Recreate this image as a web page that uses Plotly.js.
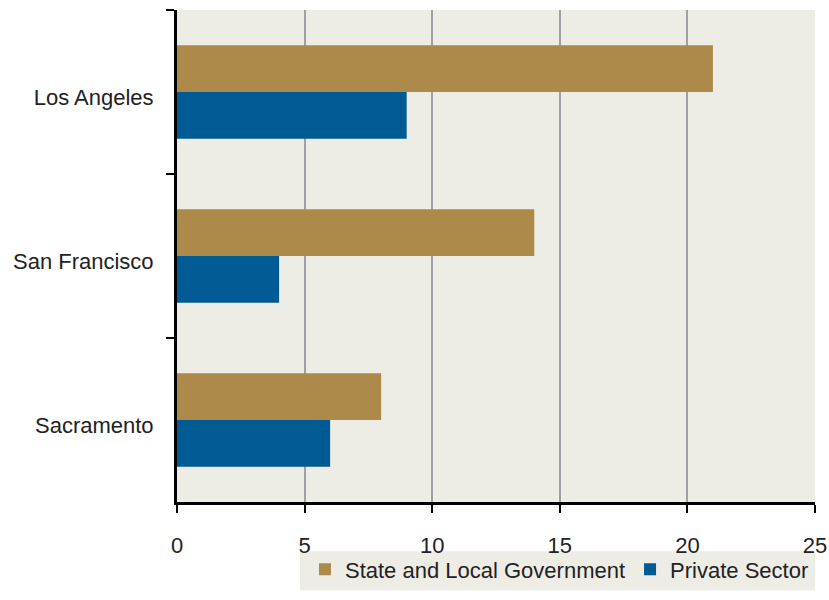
<!DOCTYPE html>
<html>
<head>
<meta charset="utf-8">
<script src="https://cdn.plot.ly/plotly-3.0.1.min.js"></script>
<style>html,body{margin:0;padding:0;background:#fff;}#chart{width:829px;height:600px;}</style>
</head>
<body>
<div id="chart"></div>
<script>
const categories = ["Los Angeles", "San Francisco", "Sacramento"];
const seriesNames = ["State and Local Government", "Private Sector"];
const stateLocal = [21, 14, 8];
const privateSector = [9, 4, 6];
const xTicks = [0, 5, 10, 15, 20, 25];

const FONT = '"Liberation Sans", Arial, sans-serif';
const BG = '#EEEDE5';

const traces = [
  {type: 'bar', orientation: 'h', name: seriesNames[0], y: categories, x: stateLocal,
   marker: {color: '#AD8A4A'}},
  {type: 'bar', orientation: 'h', name: seriesNames[1], y: categories, x: privateSector,
   marker: {color: '#005A94'}}
];

const layout = {
  width: 829, height: 600,
  margin: {l: 177, r: 14, t: 10, b: 90},
  paper_bgcolor: '#ffffff',
  plot_bgcolor: BG,
  barmode: 'group',
  bargap: 0.43,
  bargroupgap: 0,
  font: {family: FONT, size: 22, color: '#222222'},
  showlegend: true,
  legend: {
    orientation: 'h', x: 0.2006, xanchor: 'left', y: -0.18, yanchor: 'bottom',
    bgcolor: 'rgba(0,0,0,0)', font: {family: FONT, size: 22, color: '#222222'},
    traceorder: 'normal', itemwidth: 30
  },
  shapes: [{
    type: 'rect', xref: 'paper', yref: 'paper',
    x0: (300 - 177) / 638, x1: 1, y0: -0.18, y1: -0.1,
    fillcolor: BG, line: {width: 0}, layer: 'below'
  }],
  xaxis: {
    range: [0, 25], tickvals: xTicks, ticktext: xTicks.map(String),
    showgrid: true, gridcolor: '#A0A0A0', gridwidth: 2,
    zeroline: false, showline: true, linecolor: '#000000', linewidth: 3,
    ticks: 'outside', ticklen: 8, tickwidth: 2, tickcolor: '#000000',
    ticklabelstandoff: 14, fixedrange: true
  },
  yaxis: {
    type: 'category', categoryorder: 'array', categoryarray: categories,
    autorange: 'reversed',
    showgrid: false, zeroline: false, showline: true, linecolor: '#000000', linewidth: 3,
    ticks: 'outside', tickson: 'boundaries', ticklen: 8, tickwidth: 2, tickcolor: '#000000',
    ticklabelstandoff: 16, ticklabelshift: -5, fixedrange: true
  }
};

Plotly.newPlot('chart', traces, layout, {staticPlot: true, displayModeBar: false});
</script>
</body>
</html>
